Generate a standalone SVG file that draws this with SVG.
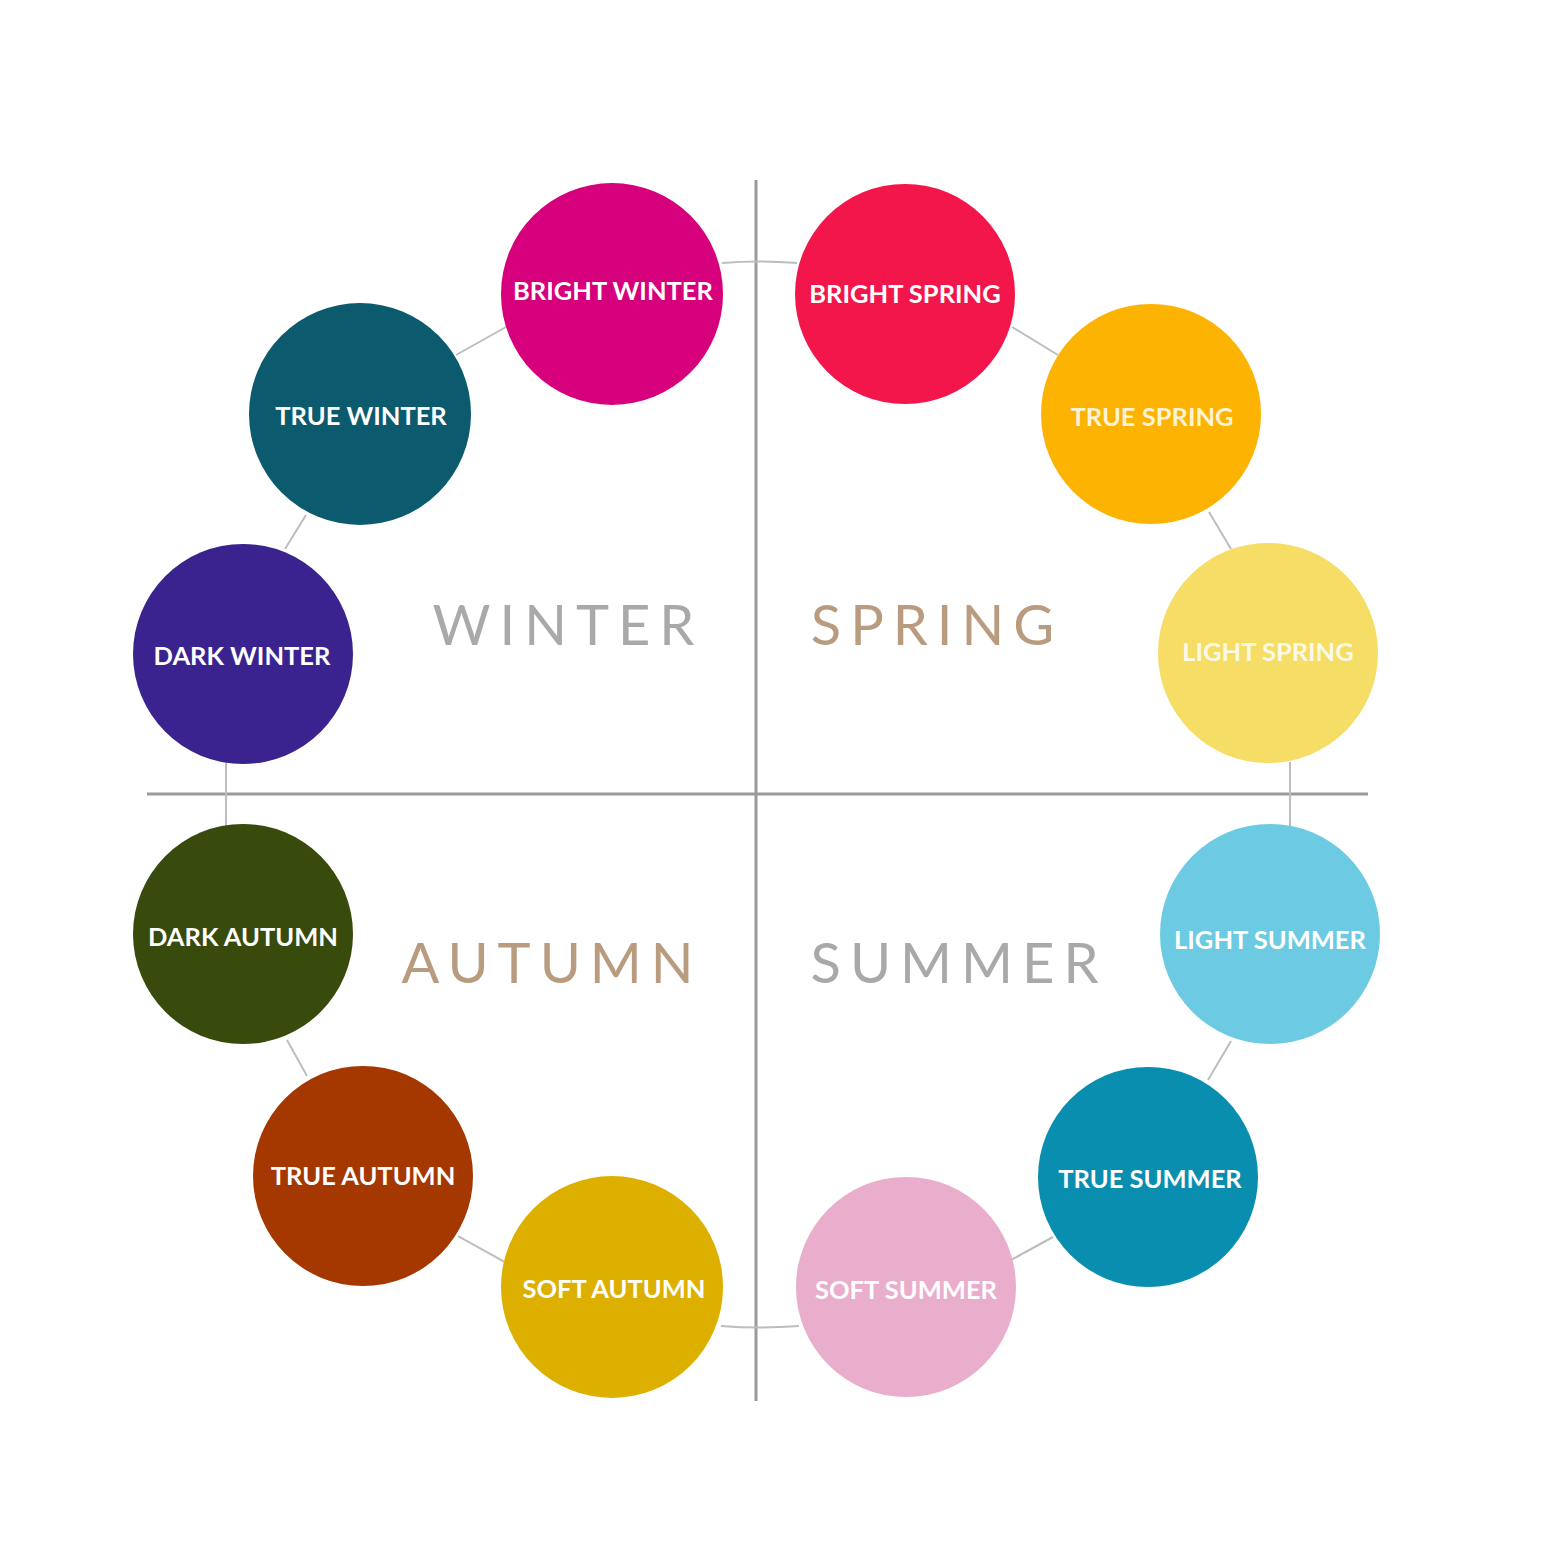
<svg xmlns="http://www.w3.org/2000/svg" width="1545" height="1555" viewBox="0 0 1545 1555">
<style>
.node-label{font-family:"Lato","Liberation Sans",sans-serif;font-weight:bold;font-size:25.5px;fill:#ffffff;text-anchor:middle;dominant-baseline:central}
.season{font-family:"Lato","Open Sans","Liberation Sans",sans-serif;font-weight:normal;font-size:56px;letter-spacing:9px;text-anchor:middle}
.gray{fill:#a9a9a9}
.tan{fill:#b99c80}
.axis{stroke:#9a9a9a;stroke-width:3;fill:none}
.conn{stroke:#bdbdbd;stroke-width:2;fill:none}
</style>
<rect width="1545" height="1555" fill="#ffffff"/>
<g id="axes">
<line class="axis" x1="756" y1="180" x2="756" y2="1401"/>
<line class="axis" x1="147" y1="794" x2="1368" y2="794"/>
</g>
<g id="connectors">
<path class="conn" d="M722,263 Q759,260 797,263"/>
<line class="conn" x1="456" y1="355" x2="506" y2="327"/>
<line class="conn" x1="285" y1="549" x2="306" y2="515"/>
<line class="conn" x1="226" y1="762" x2="226" y2="826"/>
<line class="conn" x1="287" y1="1040" x2="307" y2="1076"/>
<line class="conn" x1="458" y1="1236" x2="505" y2="1262"/>
<path class="conn" d="M721,1326 Q759,1329 799,1326"/>
<line class="conn" x1="1011" y1="1260" x2="1053" y2="1237"/>
<line class="conn" x1="1208" y1="1080" x2="1231" y2="1041"/>
<line class="conn" x1="1290" y1="762" x2="1290" y2="826"/>
<line class="conn" x1="1209" y1="512" x2="1231" y2="549"/>
<line class="conn" x1="1012" y1="327" x2="1058" y2="355"/>
</g>
<g id="season-labels">
<text class="season gray" x="568" y="645">WINTER</text>
<text class="season tan" x="937" y="645">SPRING</text>
<text class="season tan" x="552" y="983">AUTUMN</text>
<text class="season gray" x="959" y="983">SUMMER</text>
</g>
<g id="bright-winter"><circle cx="612" cy="294" r="111" fill="#d6007c"/><text class="node-label" x="613" y="290">BRIGHT WINTER</text></g>
<g id="bright-spring"><circle cx="905" cy="294" r="110" fill="#f3164a"/><text class="node-label" x="905" y="293">BRIGHT SPRING</text></g>
<g id="true-winter"><circle cx="360" cy="414" r="111" fill="#0b5a6d"/><text class="node-label" x="361" y="415">TRUE WINTER</text></g>
<g id="true-spring"><circle cx="1151" cy="414" r="110" fill="#fdb302"/><text class="node-label" x="1152" y="416" style="fill-opacity:0.85">TRUE SPRING</text></g>
<g id="dark-winter"><circle cx="243" cy="654" r="110" fill="#3a238e"/><text class="node-label" x="242" y="655">DARK WINTER</text></g>
<g id="light-spring"><circle cx="1268" cy="653" r="110" fill="#f6dd66"/><text class="node-label" x="1268" y="651" style="fill-opacity:0.85">LIGHT SPRING</text></g>
<g id="dark-autumn"><circle cx="243" cy="934" r="110" fill="#384a0c"/><text class="node-label" x="243" y="936">DARK AUTUMN</text></g>
<g id="light-summer"><circle cx="1270" cy="934" r="110" fill="#6ccbe2"/><text class="node-label" x="1270" y="939">LIGHT SUMMER</text></g>
<g id="true-autumn"><circle cx="363" cy="1176" r="110" fill="#a53700"/><text class="node-label" x="363" y="1175">TRUE AUTUMN</text></g>
<g id="true-summer"><circle cx="1148" cy="1177" r="110" fill="#0a8eaf"/><text class="node-label" x="1150" y="1178">TRUE SUMMER</text></g>
<g id="soft-autumn"><circle cx="612" cy="1287" r="111" fill="#ddb000"/><text class="node-label" x="614" y="1288">SOFT AUTUMN</text></g>
<g id="soft-summer"><circle cx="906" cy="1287" r="110" fill="#e9aecb"/><text class="node-label" x="906" y="1289">SOFT SUMMER</text></g>
</svg>
